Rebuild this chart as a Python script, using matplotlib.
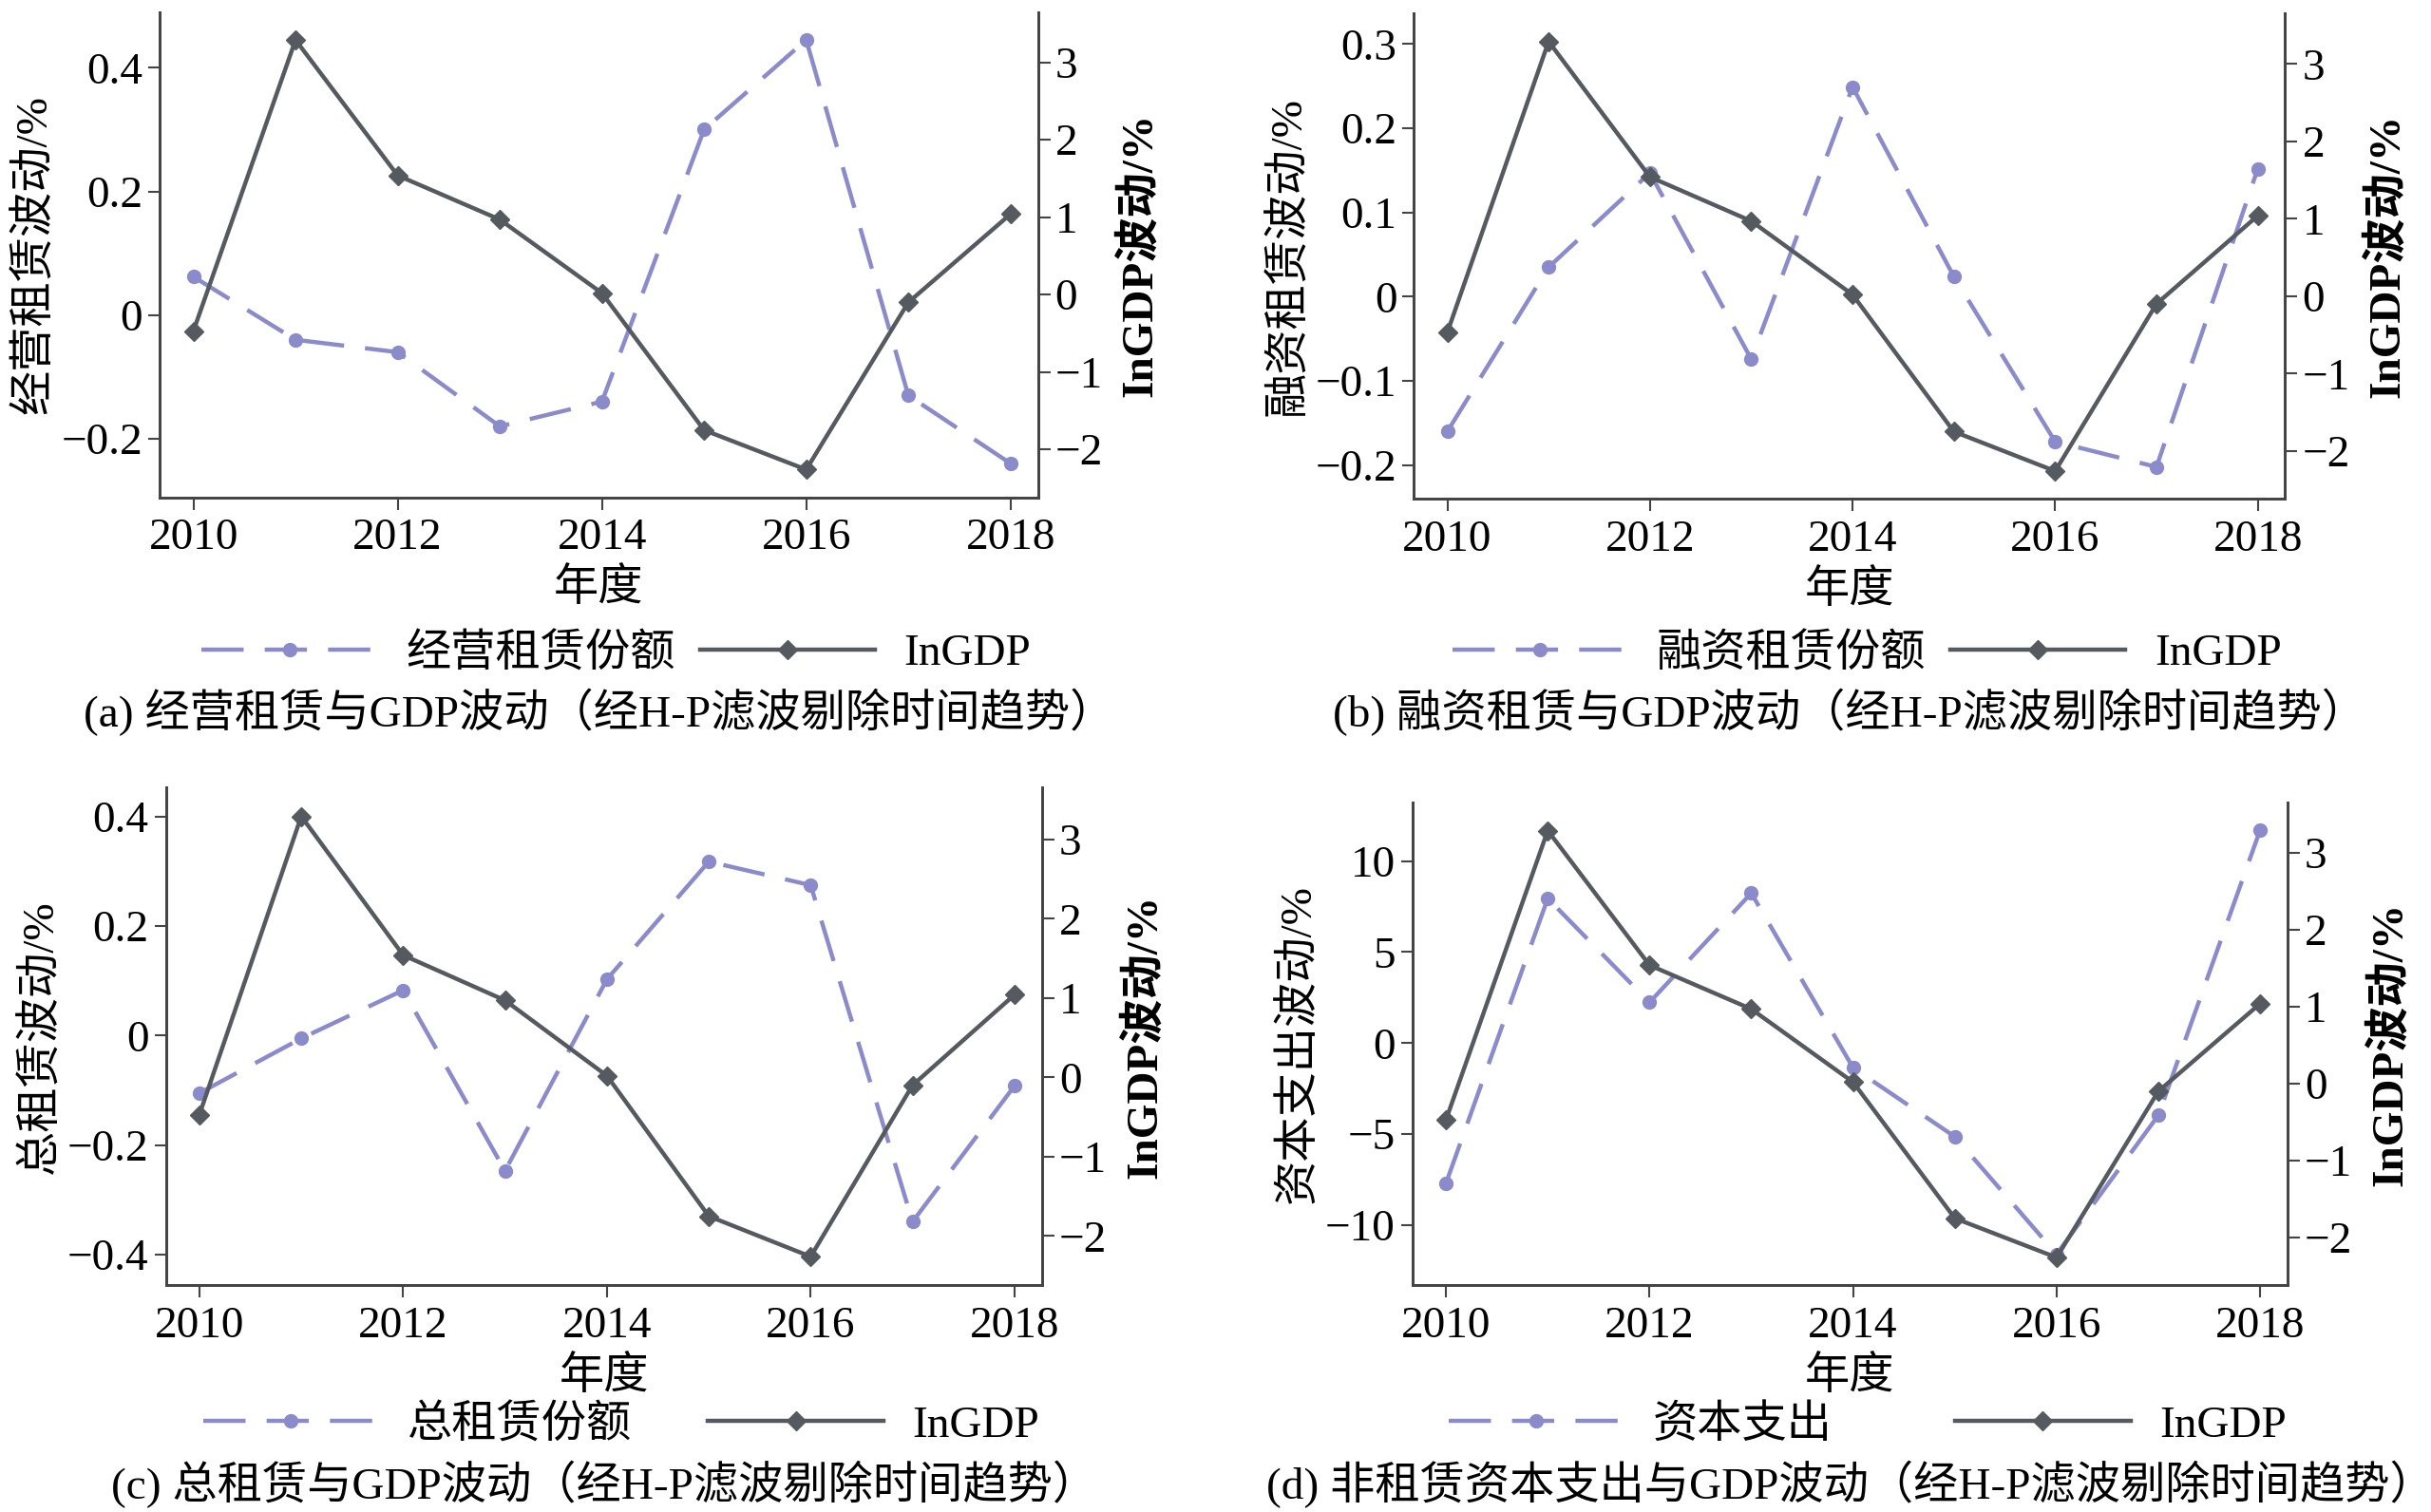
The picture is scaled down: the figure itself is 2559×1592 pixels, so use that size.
import numpy as np
import matplotlib.pyplot as plt
from matplotlib.ticker import FuncFormatter

plt.rcParams['font.family'] = ['Liberation Serif', 'Noto Sans CJK SC']
plt.rcParams['axes.unicode_minus'] = True

# data
years = [2010, 2011, 2012, 2013, 2014, 2015, 2016, 2017, 2018]
gdp = [-0.47, 3.29, 1.54, 0.97, 0.02, -1.75, -2.26, -0.10, 1.04]
op_lease = [0.062, -0.04, -0.06, -0.18, -0.14, 0.30, 0.445, -0.13, -0.24]
fin_lease = [-0.16, 0.035, 0.147, -0.074, 0.249, 0.024, -0.172, -0.202, 0.152]
tot_lease = [-0.105, -0.005, 0.083, -0.247, 0.103, 0.318, 0.275, -0.34, -0.092]
capex = [-7.7, 7.95, 2.24, 8.24, -1.35, -5.14, -11.6, -3.97, 11.7]

panels = [
    dict(y=op_lease, ylabel='经营租赁波动/%', leg='经营租赁份额',
         cap='(a) 经营租赁与GDP波动（经H-P滤波剔除时间趋势）',
         ylim=(-0.295, 0.49), ticks=[-0.2, 0, 0.2, 0.4],
         rect=[0.0657, 0.671, 0.3613, 0.321], colsp=0.55, row=0),
    dict(y=fin_lease, ylabel='融资租赁波动/%', leg='融资租赁份额',
         cap='(b) 融资租赁与GDP波动（经H-P滤波剔除时间趋势）',
         ylim=(-0.24, 0.336), ticks=[-0.2, -0.1, 0, 0.1, 0.2, 0.3],
         rect=[0.5816, 0.670, 0.3584, 0.321], colsp=0.55, row=0),
    dict(y=tot_lease, ylabel='总租赁波动/%', leg='总租赁份额',
         cap='(c) 总租赁与GDP波动（经H-P滤波剔除时间趋势）',
         ylim=(-0.456, 0.453), ticks=[-0.4, -0.2, 0, 0.2, 0.4],
         rect=[0.0682, 0.150, 0.3604, 0.329], colsp=1.7, row=1),
    dict(y=capex, ylabel='资本支出波动/%', leg='资本支出',
         cap='(d) 非租赁资本支出与GDP波动（经H-P滤波剔除时间趋势）',
         ylim=(-13.3, 13.2), ticks=[-10, -5, 0, 5, 10],
         rect=[0.581, 0.150, 0.3600, 0.319], colsp=2.75, row=1),
]
leg_y = [0.5676, 0.0574]
cap_y = [0.5287, 0.0185]

purple = '#8b8bcb'
grey = '#555960'
spine_c = '#444444'
fs = 34

fmt = FuncFormatter(lambda v, p: ('%g' % round(v, 6)).replace('-', '\u2212'))

fig = plt.figure(figsize=(25.59, 15.92), dpi=100)

for p in panels:
    ax = fig.add_axes(p['rect'])
    ax2 = ax.twinx()
    l1, = ax.plot(years, p['y'], color=purple, lw=3.2, dashes=(10, 5),
                  marker='o', ms=10, label=p['leg'])
    l2, = ax2.plot(years, gdp, color=grey, lw=3.2, marker='D', ms=10,
                   label='InGDP')
    ax.set_xlim(2009.67, 2018.27)
    ax.set_ylim(*p['ylim'])
    ax.set_yticks(p['ticks'])
    ax2.set_ylim(-2.62, 3.65)
    ax2.set_yticks([-2, -1, 0, 1, 2, 3])
    ax.set_xticks([2010, 2012, 2014, 2016, 2018])
    ax.yaxis.set_major_formatter(fmt)
    ax2.yaxis.set_major_formatter(fmt)
    for a in (ax, ax2):
        a.spines['top'].set_visible(False)
        for s in ('left', 'right', 'bottom'):
            a.spines[s].set_color(spine_c)
            a.spines[s].set_linewidth(2)
        a.tick_params(labelsize=fs, length=9, width=1.5, color=spine_c,
                      direction='out', pad=4)
    ax.tick_params(axis='x', pad=7)
    ax.set_ylabel(p['ylabel'], fontsize=fs, labelpad=4)
    ax2.set_ylabel('InGDP波动/%', fontsize=fs, fontweight='bold', labelpad=12)
    ax.set_xlabel('年度', fontsize=fs, labelpad=7)
    x0, y0, w, h = p['rect']
    ax.legend(handles=[l1, l2], loc='center',
              bbox_to_anchor=(x0 + 0.52 * w, leg_y[p['row']]),
              bbox_transform=fig.transFigure,
              ncol=2, frameon=False, fontsize=fs, handlelength=3.9,
              handletextpad=0.65, columnspacing=p['colsp'], borderaxespad=0)
    fig.text(x0 + 0.5 * w, cap_y[p['row']], p['cap'], ha='center',
             va='center', fontsize=fs)

fig.savefig('out.png', dpi=100)
